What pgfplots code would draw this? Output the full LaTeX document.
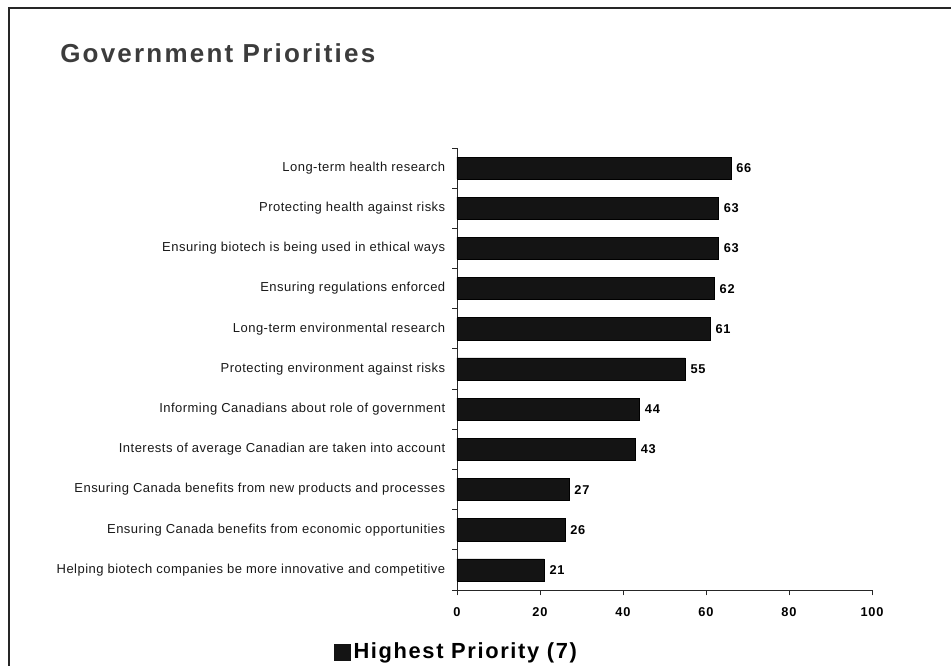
\documentclass[border=0pt]{standalone}
\usepackage{pgfplots}
\pgfplotsset{compat=1.18}
\usepackage{pgfplotstable}
\usepackage{fontspec}
\setmainfont{Liberation Sans}
\newfontfamily\labfont[LetterSpace=3.6]{Liberation Sans}
\newfontfamily\numfont[LetterSpace=6]{Liberation Sans}
\newfontfamily\legfont[LetterSpace=7.5]{Liberation Sans}
\newfontfamily\titfont[LetterSpace=8.5]{Liberation Sans}
\definecolor{barcol}{HTML}{141414}
\definecolor{titcol}{HTML}{3C3C3C}

\pgfplotstableread{
y val
0 21
1 26
2 27
3 43
4 44
5 55
6 61
7 62
8 63
9 63
10 66
}\prio

\begin{document}
\begin{tikzpicture}
\path[use as bounding box] (0,0) rectangle (713.25pt,499.5pt);
\draw[line width=1.4pt, black!85] (6.75pt,0) -- (6.75pt,493.5pt) -- (713.25pt,493.5pt);
\node[anchor=base west, inner sep=0, text=titcol] at (45pt,452.25pt)
  {\titfont\fontsize{19.5}{23}\selectfont\bfseries Government Priorities};
\begin{axis}[
  at={(342.75pt,57pt)}, anchor=south west,
  scale only axis, width=311.25pt, height=331.5pt,
  xbar, bar width=0.55,
  xmin=0, xmax=100, ymin=-0.5, ymax=10.5,
  axis x line*=bottom, axis y line*=left,
  axis line style={black!85, line width=0.6pt},
  xtick={0,20,...,100},
  ytick={0,...,10},
  yticklabels={
    Helping biotech companies be more innovative and competitive,
    Ensuring Canada benefits from economic opportunities,
    Ensuring Canada benefits from new products and processes,
    Interests of average Canadian are taken into account,
    Informing Canadians about role of government,
    Protecting environment against risks,
    Long-term environmental research,
    Ensuring regulations enforced,
    Ensuring biotech is being used in ethical ways,
    Protecting health against risks,
    Long-term health research},
  every major y tick/.style={draw=none},
  minor ytick={-0.5,0.5,...,10.5},
  tick align=outside,
  major tick length=4pt, minor tick length=3.5pt,
  tick style={black!85, line width=0.6pt},
  yticklabel style={font=\labfont\fontsize{9.75}{11}\selectfont, text=black!90, xshift=-1.3pt},
  xticklabel style={font=\numfont\bfseries\fontsize{9.6}{11}\selectfont, yshift=-5.8pt},
  /pgf/number format/assume math mode=true,
  nodes near coords,
  nodes near coords style={font=\numfont\bfseries\fontsize{9.6}{11}\selectfont, anchor=west, xshift=0.5pt},
  legend style={at={(0,-0.14)}, anchor=center, draw=none, fill=none,
    font=\legfont\bfseries\fontsize{16.4}{19}\selectfont},
  legend image code/.code={\fill[barcol] (0pt,-6.2pt) rectangle (12pt,5.8pt);},
]
\addplot[fill=barcol, draw=black, line width=0.4pt] table[x=val, y=y] {\prio};
\addlegendentry{Highest Priority (7)}
\end{axis}
\end{tikzpicture}
\end{document}
